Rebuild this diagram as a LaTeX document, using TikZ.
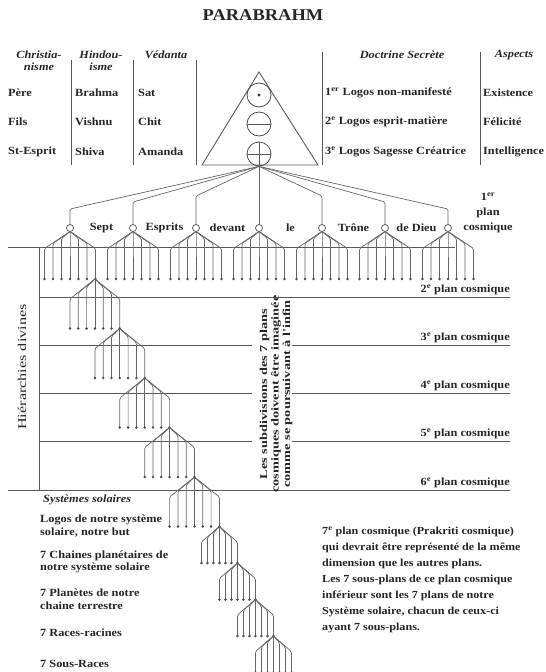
\documentclass[tikz,border=0pt]{standalone}
\usepackage{fontspec}
\setmainfont{Liberation Serif}[FakeStretch=1.12]
\newfontfamily\widefont{Liberation Serif}[FakeStretch=1.35]
\usetikzlibrary{positioning}
\usetikzlibrary{calc}
\tikzset{
  % text styles
  lbl/.style={font=\bfseries\fontsize{11}{12.5}\selectfont, inner sep=0pt, text=black!85},
  hdr/.style={font=\bfseries\itshape\fontsize{11}{12}\selectfont, align=center, inner sep=0pt, text=black!85},
  % line styles
  sep/.style={draw=black!65, line width=0.9pt},
  plane/.style={draw=black!65, line width=0.9pt},
  branch/.style={draw=black!60, line width=0.7pt, rounded corners=1.5pt},
  spirit/.style={circle, draw=black!70, fill=white, line width=0.7pt, minimum size=7pt, inner sep=0pt},
  orb/.style={circle, draw=black!70, line width=0.8pt, minimum size=24pt, inner sep=0pt}
}
% one fan of seven branches: apex x, apex y, step, rise, bottom y
\newcommand\drawfan[5]{%
  \foreach \k in {-3,...,3}{
    \pgfmathsetmacro\bx{#1+\k*#3}
    \pgfmathsetmacro\by{#2+2+abs(\k)*#4}
    \draw[branch] (#1,#2) -- (\bx,\by) -- (\bx,#5);
    \fill[black!70] (\bx,#5) circle (1.4pt);
  }%
}

\begin{document}
\begin{tikzpicture}[x=1pt, y=-1pt]
    \useasboundingbox (0,0) rectangle (546,672);

    % Title and table
    \node [lbl, font=\bfseries\fontsize{16.5}{18}\selectfont] (title) at (263,15) {PARABRAHM};

    \node [hdr] (hchr) at (39,61) {Christia-\\nisme};
    \node [hdr] (hhin) at (101,61) {Hindou-\\isme};
    \node [hdr] (hved) at (166,55) {Védanta};
    \node [hdr] (hdoc) at (402,55) {Doctrine Secrète};
    \node [hdr] (hasp) at (514,55) {Aspects};

    \foreach \x/\ya in {71/60,133/60,196/60,322/52,480/52}
        \draw [sep] (\x,\ya) -- (\x,165);

    \foreach \y/\a/\b/\c in {93/Père/Brahma/Sat,122/Fils/Vishnu/Chit,152/St-Esprit/Shiva/Amanda}{
        \node [lbl, anchor=west] at (8,\y) {\a};
        \node [lbl, anchor=west] at (75,\y) {\b};
        \node [lbl, anchor=west] at (138,\y) {\c};
    }
    \node [lbl, anchor=west] (d1) at (325,93) {1\textsuperscript{er} Logos non-manifesté};
    \node [lbl, anchor=west] (d2) at (325,122) {2\textsuperscript{e} Logos esprit-matière};
    \node [lbl, anchor=west] (d3) at (325,152) {3\textsuperscript{e} Logos Sagesse Créatrice};
    \node [lbl, anchor=west] (a1) at (483,93) {Existence};
    \node [lbl, anchor=west] (a2) at (483,122) {Félicité};
    \node [lbl, anchor=west] (a3) at (483,152) {Intelligence};

    % Triangle with the three circles
    \draw [sep] (259,72) -- (202,165) -- (318,165) -- cycle;
    \node [orb] (c1) at (259,95) {};
    \node [orb] (c2) at (259,124) {};
    \node [orb] (c3) at (259,154) {};
    \fill [black!80] (c1) circle (1.7pt);
    \draw [sep, line width=0.8pt] (c2.west) -- (c2.east);
    \draw [sep, line width=0.8pt] (c3.west) -- (c3.east) (c3.north) -- (c3.south);

    % Seven spirits
    \foreach \x [count=\i] in {70,133,...,448}
        \node [spirit] (s\i) at (\x,228) {};
    \foreach \i/\yb in {1/209,2/202,3/196,5/196,6/202,7/209}
        \draw [branch] (c3.south) -- (s\i.north |- 0,\yb) -- (s\i.north);
    \draw [branch] (c3.south) -- (s4.north);

    \foreach \t [count=\i] in {Sept,Esprits,devant,le,Trône,de Dieu}
        \node [lbl] at (70+63*\i-31.5,228) {\t};
    \node [lbl, align=center, font=\bfseries\fontsize{11}{15}\selectfont] (p1) at (488,213) {1\textsuperscript{er}\\plan\\cosmique};

    % Cosmic planes
    \draw [plane] (8,247) -- (455,247);
    \draw [plane] (39,247) -- (39,490);
    \draw [plane] (39,297) -- (510,297);
    \foreach \y in {345,393,441}{
        \draw [plane] (39,\y) -- (252,\y);
        \draw [plane] (292,\y) -- (510,\y);
    }
    \draw [plane] (8,490) -- (510,490);
    \foreach \n/\y in {2/297,3/345,4/393,5/441,6/490}
        \node [lbl, anchor=south east] at (510,\y-1.5) {\n\textsuperscript{e} plan cosmique};

    % Fans of seven
    \foreach \x in {70,133,...,448}{
        \drawfan{\x}{231.5}{8.5}{5}{279}
    }
    \foreach \j in {0,...,4}{
        \drawfan{94.9+24.9*\j}{279+49.5*\j}{8.3}{6}{328.5+49.5*\j}
    }
    \foreach \j in {0,...,3}{
        \drawfan{219.4+18*\j}{526.5+36.5*\j}{6}{4.5}{563+36.5*\j}
    }

    % Side texts
    \node [lbl, rotate=90, font=\widefont\fontsize{12}{14}\selectfont] (hier) at (22,367) {Hiérarchies divines};
    \node [lbl, rotate=90, align=center, font=\widefont\bfseries\fontsize{10.6}{11.5}\selectfont] (subdiv) at (276,394)
        {Les subdivisions des 7 plans\\cosmiques doivent être imaginée\\comme se poursuivant à l'infin};

    % Solar systems
    \node [hdr, anchor=west] (sys) at (43,500) {Systèmes solaires};
    \node [lbl, anchor=west, align=left] (r1) at (40,526) {Logos de notre système\\solaire, notre but};
    \node [lbl, anchor=west, align=left] (r2) at (40,562) {7 Chaines planétaires de\\notre système solaire};
    \node [lbl, anchor=west, align=left] (r3) at (40,599) {7 Planètes de notre\\chaine terrestre};
    \node [lbl, anchor=west] (r4) at (40,633) {7 Races-racines};
    \node [lbl, anchor=west] (r5) at (40,664) {7 Sous-Races};

    \node [lbl, anchor=north west, align=left, font=\bfseries\fontsize{10.8}{16}\selectfont] (note) at (322,527)
        {7\textsuperscript{e} plan cosmique (Prakriti cosmique)\\
         qui devrait être représenté de la même\\
         dimension que les autres plans.\\
         Les 7 sous-plans de ce plan cosmique\\
         inférieur sont les 7 plans de notre\\
         Système solaire, chacun de ceux-ci\\
         ayant 7 sous-plans.};
\end{tikzpicture}
\end{document}
